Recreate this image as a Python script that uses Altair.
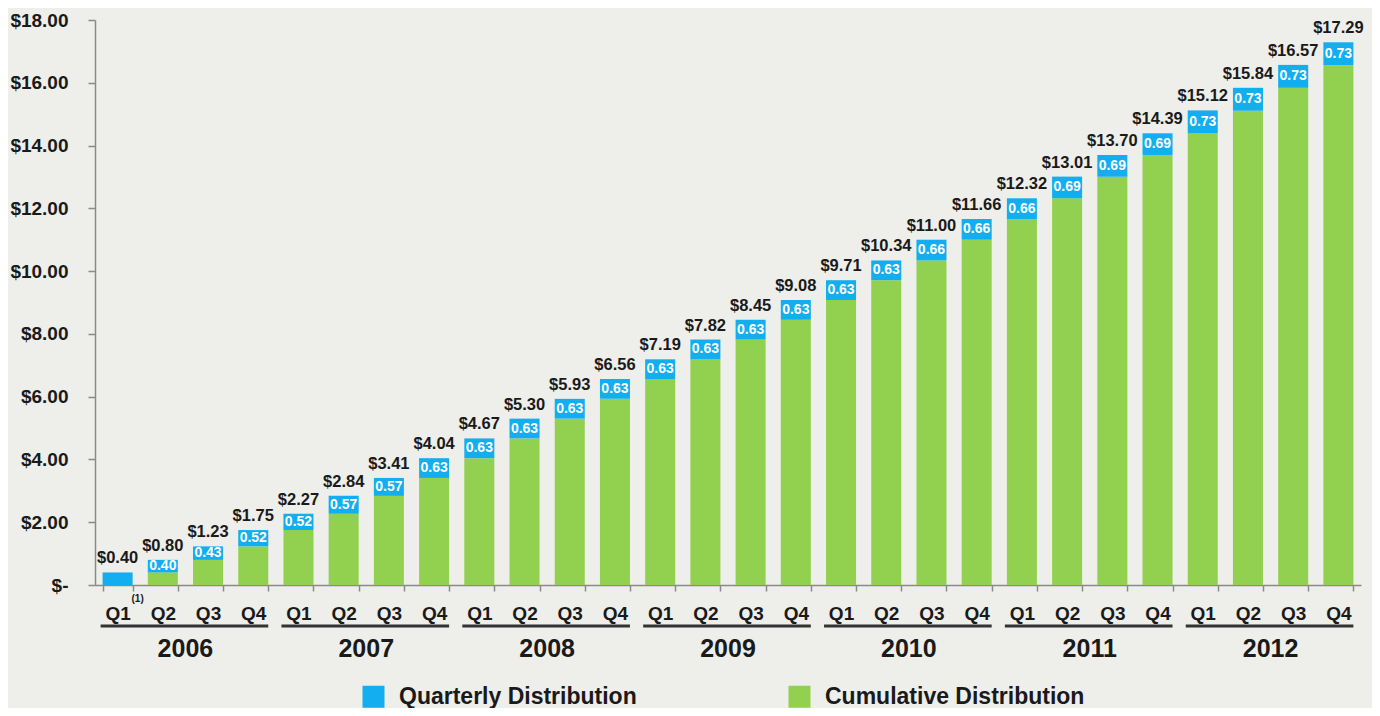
import altair as alt
import pandas as pd

years = ["2006", "2007", "2008", "2009", "2010", "2011", "2012"]
quarters = ["Q1", "Q2", "Q3", "Q4"]
totals = [0.40, 0.80, 1.23, 1.75, 2.27, 2.84, 3.41, 4.04, 4.67, 5.30, 5.93, 6.56,
          7.19, 7.82, 8.45, 9.08, 9.71, 10.34, 11.00, 11.66, 12.32, 13.01, 13.70, 14.39,
          15.12, 15.84, 16.57, 17.29]
quarterly = [0.40, 0.40, 0.43, 0.52, 0.52, 0.57, 0.57, 0.63, 0.63, 0.63, 0.63, 0.63,
             0.63, 0.63, 0.63, 0.63, 0.63, 0.63, 0.66, 0.66, 0.66, 0.69, 0.69, 0.69,
             0.73, 0.73, 0.73, 0.73]
y_ticks = [0, 2, 4, 6, 8, 10, 12, 14, 16, 18]
series_names = ["Quarterly Distribution", "Cumulative Distribution"]
footnote = "(1)"

BLUE = "#12AEEF"
GREEN = "#92D050"
TXT = "#1a1a1a"
FONT = "Liberation Sans"

cats = [f"{y} {q}" for y in years for q in quarters]

rows = []
for c, t, q in zip(cats, totals, quarterly):
    base = round(t - q, 2)
    rows.append({"cat": c, "series": series_names[1], "lo": 0.0, "hi": base})
    rows.append({"cat": c, "series": series_names[0], "lo": base, "hi": t})
bars_df = pd.DataFrame(rows)

lab_df = pd.DataFrame({
    "cat": cats,
    "total": totals,
    "base": [round(t - q, 2) for t, q in zip(totals, quarterly)],
    "tlabel": [f"${t:.2f}" for t in totals],
    "qlabel": [f"{q:.2f}" for q in quarterly],
})
lab_df["mid"] = (lab_df["total"] + lab_df["base"]) / 2
inner_df = lab_df[lab_df["base"] > 0]

year_df = pd.DataFrame({
    "cat": [f"{y} Q1" for y in years],
    "cat_end": [f"{y} Q4" for y in years],
    "mid_cat": [f"{y} Q2" for y in years],
    "year": years,
})
note_df = pd.DataFrame({"cat": [cats[0]], "note": [footnote]})

x_main = alt.X(
    "cat:N",
    title=None,
    sort=cats,
    scale=alt.Scale(domain=cats, paddingInner=0.336, paddingOuter=0.168),
    axis=alt.Axis(
        labelExpr="slice(datum.label, 5)",
        labelAngle=0,
        labelFont=FONT,
        labelFontSize=19,
        labelFontWeight="bold",
        labelColor=TXT,
        tickBand="extent",
        tickSize=6,
        tickWidth=1.5,
        tickColor="#8a8a8a",
        domainColor="#8a8a8a",
        domainWidth=1.5,
        labelPadding=13,
        title=None,
    ),
)
y_main = alt.Y(
    "hi:Q",
    title=None,
    scale=alt.Scale(domain=[0, 18], nice=False),
    axis=alt.Axis(
        values=y_ticks,
        labelExpr="datum.value == 0 ? '$-\u00a0\u00a0' : '$' + format(datum.value, '.2f')",
        grid=False,
        labelFont=FONT,
        labelFontSize=19,
        labelFontWeight="bold",
        labelColor=TXT,
        tickSize=7,
        tickWidth=1.5,
        tickColor="#8a8a8a",
        domainColor="#8a8a8a",
        domainWidth=1.5,
        labelPadding=20,
        title=None,
    ),
)

bars = alt.Chart(bars_df).mark_bar().encode(
    x=x_main,
    y=y_main,
    y2="lo:Q",
    color=alt.Color(
        "series:N",
        scale=alt.Scale(domain=series_names, range=[BLUE, GREEN]),
        legend=alt.Legend(
            orient="none",
            legendX=267,
            legendY=665,
            direction="horizontal",
            title=None,
            symbolType="square",
            symbolSize=484,
            symbolStrokeWidth=0,
            symbolOpacity=1,
            labelFont=FONT,
            labelFontSize=23,
            labelFontWeight="bold",
            labelColor=TXT,
            labelOffset=14,
            columnPadding=151,
            padding=0,
            labelLimit=400,
        ),
    ),
)

total_text = alt.Chart(lab_df).mark_text(
    dy=-9, baseline="alphabetic", font=FONT, fontSize=16.5, fontWeight="bold", color=TXT
).encode(x=alt.X("cat:N", title=None), y=alt.Y("total:Q"), text="tlabel:N")

inner_text = alt.Chart(inner_df).mark_text(
    baseline="middle", font=FONT, fontSize=14, fontWeight="bold", color="white"
).encode(x=alt.X("cat:N", title=None), y=alt.Y("mid:Q"), text="qlabel:N")

note_text = alt.Chart(note_df).mark_text(
    xOffset=20, baseline="middle", font=FONT, fontSize=10, fontWeight="bold", color=TXT
).encode(x=alt.X("cat:N", title=None), y=alt.value(579), text="note:N")

year_rule = alt.Chart(year_df).mark_rule(
    strokeWidth=3, color="#333333", xOffset=-17, x2Offset=15
).encode(x=alt.X("cat:N", title=None), x2="cat_end:N", y=alt.value(606))

year_text = alt.Chart(year_df).mark_text(
    xOffset=22.6, baseline="middle", font=FONT, fontSize=25, fontWeight="bold", color=TXT
).encode(x=alt.X("mid_cat:N", title=None), y=alt.value(629), text="year:N")

chart = alt.layer(bars, total_text, inner_text, note_text, year_rule, year_text).properties(
    width=1266,
    height=565,
    autosize=alt.AutoSizeParams(type="none"),
    padding={"left": 87, "top": 12, "right": 11, "bottom": 123},
).configure(background="#EEEEEA").configure_view(stroke=None)

chart.save("out.html", embed_options={"renderer": "svg", "actions": False})
